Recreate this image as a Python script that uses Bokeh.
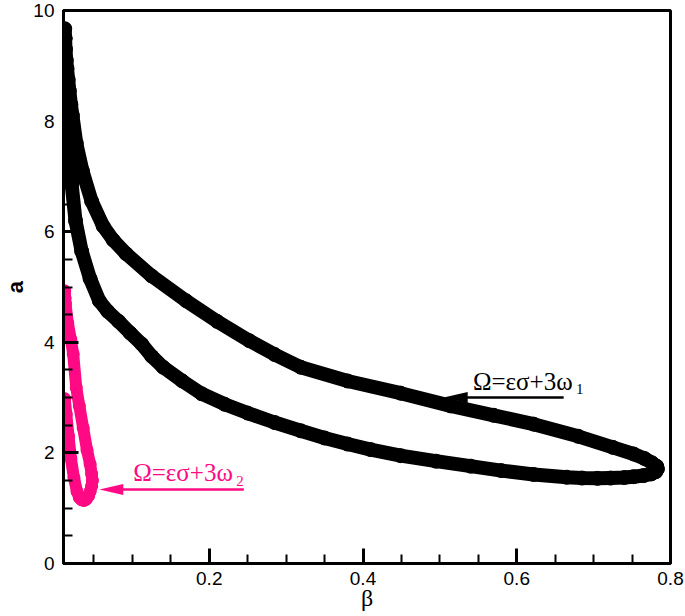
from bokeh.plotting import figure
from bokeh.models import Range1d, FixedTicker, PrintfTickFormatter, Label
from bokeh.embed import file_html
from bokeh.resources import INLINE

# --- data ---
beta_w1 = [0.012, 0.0125, 0.013, 0.014, 0.015, 0.0165, 0.018, 0.020, 0.022, 0.027, 0.035, 0.047,
           0.062, 0.075, 0.092, 0.125, 0.170, 0.210, 0.252, 0.285, 0.319, 0.380, 0.449, 0.514,
           0.570, 0.622, 0.680, 0.725, 0.752, 0.766, 0.776, 0.782, 0.783, 0.781, 0.775, 0.765,
           0.752, 0.740, 0.722, 0.705, 0.685, 0.665, 0.622, 0.580, 0.540, 0.495, 0.449, 0.410,
           0.380, 0.350, 0.319, 0.285, 0.250, 0.220, 0.190, 0.165, 0.140, 0.125, 0.112, 0.097,
           0.082, 0.068, 0.057, 0.045, 0.034, 0.026, 0.021, 0.016, 0.013, 0.012]
a_w1 = [9.67, 9.50, 9.30, 9.10, 8.95, 8.75, 8.55, 8.30, 8.10, 7.60, 7.10, 6.55,
        6.10, 5.85, 5.60, 5.20, 4.75, 4.38, 4.03, 3.78, 3.55, 3.30, 3.08, 2.85,
        2.68, 2.52, 2.30, 2.10, 1.98, 1.90, 1.82, 1.76, 1.71, 1.66, 1.62, 1.59,
        1.57, 1.555, 1.545, 1.54, 1.545, 1.56, 1.61, 1.68, 1.76, 1.85, 1.95, 2.06,
        2.16, 2.27, 2.40, 2.55, 2.72, 2.88, 3.07, 3.30, 3.55, 3.75, 3.97, 4.17,
        4.38, 4.56, 4.75, 5.15, 5.65, 6.20, 6.86, 7.40, 7.90, 8.20]

beta_w2 = [0.012, 0.0125, 0.013, 0.016, 0.020, 0.023, 0.027, 0.031, 0.036, 0.041, 0.045, 0.047,
           0.048, 0.047, 0.045, 0.043, 0.040, 0.037, 0.034, 0.031, 0.028, 0.024, 0.020, 0.017,
           0.014, 0.012]
a_w2 = [4.93, 4.80, 4.70, 4.35, 4.05, 3.79, 3.18, 2.85, 2.45, 2.05, 1.80, 1.62,
        1.50, 1.40, 1.30, 1.22, 1.16, 1.14, 1.15, 1.19, 1.30, 1.55, 1.90, 2.30,
        2.70, 2.98]

x_ticks = [0.2, 0.4, 0.6, 0.8]
x_minor = [0.05, 0.1, 0.15, 0.25, 0.3, 0.35, 0.45, 0.5, 0.55, 0.65, 0.7, 0.75]
y_ticks = [0, 2, 4, 6, 8, 10]
y_minor = [0.5, 1, 1.5, 2.5, 3, 3.5, 4.5, 5, 5.5, 6.5, 7, 7.5, 8.5, 9, 9.5]

X0, X1 = 0.0104, 0.8
Y0, Y1 = 0.0, 10.0
PINK = "#ff0a84"

W, H = 685, 616
B_LEFT, B_RIGHT, B_TOP, B_BOTTOM = 62, 15, 10, 53
FRAME_W, FRAME_H = W - B_LEFT - B_RIGHT, H - B_TOP - B_BOTTOM

p = figure(width=W, height=H, output_backend="svg", toolbar_location=None,
           x_range=Range1d(X0, X1), y_range=Range1d(Y0, Y1),
           min_border_left=B_LEFT, min_border_right=B_RIGHT,
           min_border_top=B_TOP, min_border_bottom=B_BOTTOM)
p.grid.visible = False
p.background_fill_color = None
p.border_fill_color = "white"
p.outline_line_color = "black"
p.outline_line_width = 3
p.outline_line_alpha = 1.0

for ax, ticks, minor in ((p.xaxis[0], x_ticks, x_minor), (p.yaxis[0], y_ticks, y_minor)):
    ax.ticker = FixedTicker(ticks=ticks, minor_ticks=minor)
    ax.axis_line_width = 3
    ax.axis_line_color = "black"
    ax.major_tick_in = 15
    ax.major_tick_out = 0
    ax.minor_tick_in = 9
    ax.minor_tick_out = 0
    ax.major_tick_line_width = 3
    ax.major_tick_line_color = "black"
    ax.minor_tick_line_width = 2
    ax.minor_tick_line_color = "black"
    ax.major_label_text_font = "Liberation Sans"
    ax.major_label_text_font_size = "19px"
    ax.major_label_text_color = "black"
    ax.axis_label_text_color = "black"

p.xaxis[0].formatter = PrintfTickFormatter(format="%.1f")
p.yaxis[0].formatter = PrintfTickFormatter(format="%d")
p.xaxis[0].major_label_standoff = 8
p.yaxis[0].major_label_standoff = 9

p.xaxis[0].axis_label = "β"
p.xaxis[0].axis_label_text_font = "Liberation Serif"
p.xaxis[0].axis_label_text_font_style = "normal"
p.xaxis[0].axis_label_text_font_size = "24px"
p.xaxis[0].axis_label_standoff = -3
p.yaxis[0].axis_label = "a"
p.yaxis[0].axis_label_text_font = "Liberation Sans"
p.yaxis[0].axis_label_text_font_style = "bold"
p.yaxis[0].axis_label_text_font_size = "22px"
p.yaxis[0].axis_label_standoff = 2

# curves (densely packed markers in the original)
p.line(beta_w1, a_w1, line_width=14, color="black", line_join="round", line_cap="round")
p.scatter(beta_w1, a_w1, size=14, color="black")
p.line(beta_w2, a_w2, line_width=12, color=PINK, line_join="round", line_cap="round")
p.scatter(beta_w2, a_w2, size=12, color=PINK)

# annotations
px_x = FRAME_W / (X1 - X0)
px_y = FRAME_H / (Y1 - Y0)

def arrow(x_start, x_end, y, color):
    p.line([x_start, x_end + 20 / px_x], [y, y], line_width=2.5, color=color)
    hx = x_end + 24 / px_x
    hy = 5.5 / px_y
    p.patch([x_end, hx, hx], [y, y + hy, y - hy], color=color, line_width=0)

arrow(0.661, 0.505, 3.0, "black")
arrow(0.245, 0.057, 1.336, PINK)

def omega_label(x, y, sub, color):
    p.add_layout(Label(x=x, y=y, text="Ω=εσ+3ω", text_font="Liberation Serif",
                       text_font_size="25px", text_color=color, text_baseline="alphabetic"))
    p.add_layout(Label(x=x, y=y, x_offset=103, y_offset=-8, text=sub, text_font="Liberation Serif",
                       text_font_size="15px", text_color=color, text_baseline="alphabetic"))

omega_label(0.543, 3.30, "1", "black")
omega_label(0.101, 1.64, "2", PINK)

open("out.html", "w").write(file_html(p, INLINE))
